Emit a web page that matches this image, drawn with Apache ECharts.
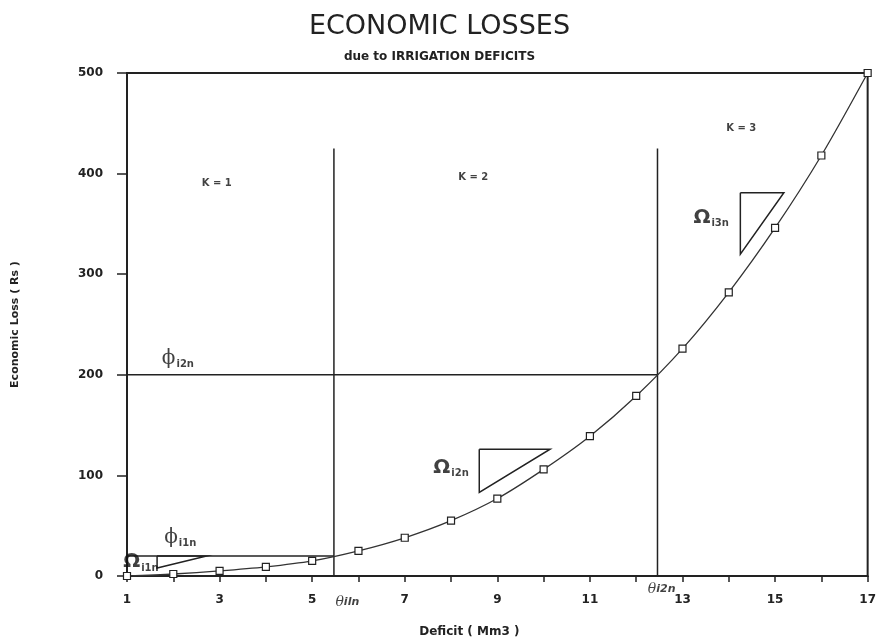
<!DOCTYPE html>
<html>
<head>
<meta charset="utf-8">
<script src="https://cdn.jsdelivr.net/npm/echarts@6/dist/echarts.min.js"></script>
<style>
  html, body { margin: 0; background: #fff; }
  #chart { width: 879px; height: 643px; }
</style>
</head>
<body>
<div id="chart"></div>
<script>
// deficit (Mm3) and the loss
const deficit = [1, 2, 3, 4, 5, 6, 7, 8, 9, 10, 11, 12, 13, 14, 15, 16, 17];
const loss = [0, 2, 5, 9, 15, 25, 38, 55, 77, 106, 139, 179, 226, 282, 346, 418, 500];

// break points of the three segments
const theta1 = 5.47;
const theta2 = 12.46;
const phi1 = 20;
const phi2 = 200;
const dividerTop = 425;

// slope triangles (top-left, top-right, bottom-left)
const omega1 = [[1.65, 20], [2.72, 20], [1.65, 8], [1.65, 20]];
const omega2 = [[8.61, 126], [10.14, 126], [8.61, 83], [8.61, 126]];
const omega3 = [[14.25, 381], [15.19, 381], [14.25, 320], [14.25, 381]];

// text notes: [x, y, label]
const notes = [
  [2.94, 390, '{k|K = 1}'],
  [8.48, 396, '{k|K = 2}'],
  [14.27, 445, '{k|K = 3}'],
  [2.15, 38, '{phi|ϕ}{sub|i1n}'],
  [2.1, 216, '{phi|ϕ}{sub|i2n}'],
  [1.3, 14, '{om|Ω}{sub|i1n}'],
  [8.0, 108, '{om|Ω}{sub|i2n}'],
  [13.62, 356, '{om|Ω}{sub|i3n}'],
  [5.76, -26, '{th|θ}{ths|iln}'],
  [12.55, -13, '{th|θ}{ths|i2n}']
];

const chart = echarts.init(document.getElementById('chart'));

const guides = [
  [[theta1, 0], [theta1, dividerTop]],
  [[theta2, 0], [theta2, dividerTop]],
  [[deficit[0], phi2], [theta2, phi2]],
  [[deficit[0], phi1], [theta1, phi1]],
  omega1, omega2, omega3
];

const labelFont = 'DejaVu Sans';

chart.setOption({
  animation: false,
  title: {
    text: 'ECONOMIC LOSSES',
    subtext: 'due to IRRIGATION DEFICITS',
    left: 'center',
    top: 8,
    itemGap: 11,
    textStyle: { fontFamily: 'DejaVu Sans', fontWeight: 'normal', fontSize: 27, color: '#222' },
    subtextStyle: { fontFamily: labelFont, fontWeight: 'bold', fontSize: 12, color: '#222' }
  },
  grid: {
    left: 127, right: 9, top: 73, bottom: 66,
    show: true, borderColor: '#222', borderWidth: 2
  },
  xAxis: {
    type: 'value',
    min: 1, max: 17, interval: 1,
    name: 'Deficit ( Mm3 )',
    nameLocation: 'middle',
    nameGap: 50,
    nameTextStyle: {
      fontFamily: labelFont, fontWeight: 'bold', fontSize: 12, color: '#222',
      padding: [0, 56, 0, 0]
    },
    axisLine: { lineStyle: { color: '#222', width: 2 } },
    axisTick: { length: 6, lineStyle: { color: '#222', width: 1.5 } },
    axisLabel: {
      margin: 18,
      fontFamily: labelFont, fontWeight: 'bold', fontSize: 12, color: '#222',
      formatter: v => (v % 2 === 1 ? String(v) : '')
    },
    splitLine: { show: false }
  },
  yAxis: {
    type: 'value',
    min: 0, max: 500, interval: 100,
    name: 'Economic Loss ( Rs )',
    nameLocation: 'middle',
    nameGap: 106,
    nameTextStyle: { fontFamily: labelFont, fontWeight: 'bold', fontSize: 11, color: '#222' },
    axisLine: { lineStyle: { color: '#222', width: 2 } },
    axisTick: { length: 10, lineStyle: { color: '#222', width: 1.5 } },
    axisLabel: { margin: 24, fontFamily: labelFont, fontWeight: 'bold', fontSize: 12, color: '#222' },
    splitLine: { show: false }
  },
  series: [
    {
      type: 'lines',
      coordinateSystem: 'cartesian2d',
      polyline: true,
      silent: true,
      lineStyle: { color: '#222', width: 1.5, opacity: 1 },
      data: guides.map(c => ({ coords: c }))
    },
    {
      type: 'line',
      data: deficit.map((d, i) => [d, loss[i]]),
      smooth: 0.3,
      symbol: 'rect',
      symbolSize: 7,
      lineStyle: { color: '#333', width: 1.3 },
      itemStyle: { color: '#fff', borderColor: '#222', borderWidth: 1.2 },
      z: 3
    },
    {
      type: 'scatter',
      clip: false,
      silent: true,
      symbolSize: 0,
      data: notes.map(n => ({ value: [n[0], n[1]], name: n[2] })),
      label: {
        show: true,
        position: 'inside',
        formatter: p => p.name,
        color: '#111',
        rich: {
          k: { fontFamily: labelFont, fontWeight: 'bold', fontSize: 10, color: '#111' },
          phi: { fontFamily: 'DejaVu Serif', fontSize: 20, color: '#111' },
          om: { fontFamily: 'DejaVu Sans', fontWeight: 'bold', fontSize: 20, color: '#111' },
          sub: { fontFamily: labelFont, fontWeight: 'bold', fontSize: 10, color: '#111', padding: [12, 0, 0, 1] },
          th: { fontFamily: 'DejaVu Serif', fontStyle: 'italic', fontSize: 14, color: '#111' },
          ths: { fontFamily: labelFont, fontStyle: 'italic', fontWeight: 'bold', fontSize: 11, color: '#111' }
        }
      }
    }
  ]
});
</script>
</body>
</html>
